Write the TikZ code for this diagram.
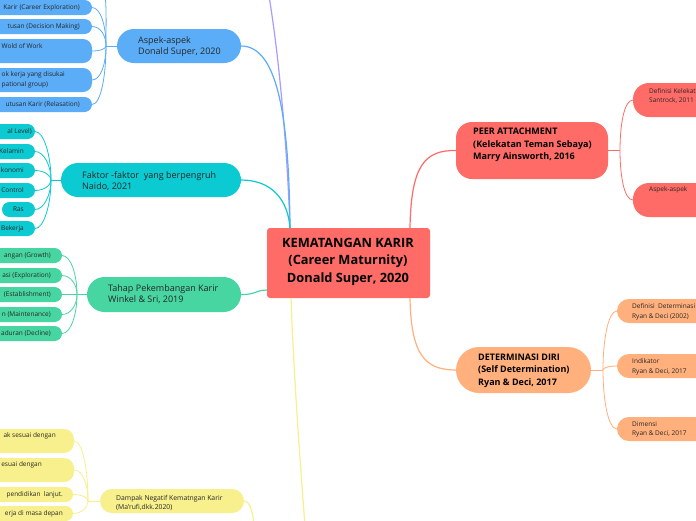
\documentclass[tikz,border=0pt]{standalone}
\usepackage{fontspec}
\setmainfont{Open Sans}
\usetikzlibrary{calc}
\definecolor{cRed}{HTML}{FF6B66}
\definecolor{cBlue}{HTML}{5BADF7}
\definecolor{cTeal}{HTML}{0CCAD2}
\definecolor{cGreen}{HTML}{47D6A1}
\definecolor{cYellow}{HTML}{F8F08C}
\definecolor{cOrange}{HTML}{FFB07C}
\definecolor{cPurple}{HTML}{A99CFF}
\definecolor{txt}{HTML}{262626}
\newcommand\lconn[3]{\draw[#3] (#1) .. controls ($(#1)!0.5!(#1 |- #2.east)$) and ($(#2.east)+(9,0)$) .. (#2.east);}
\newcommand\rconn[3]{\draw[#3] (#1) .. controls ($(#1)!0.5!(#1 |- #2.west)$) and ($(#2.west)+(-9,0)$) .. (#2.west);}
\begin{document}
\begin{tikzpicture}[x=1pt,y=-1pt,
  box/.style={fill=#1, draw=none, inner sep=0pt, outer sep=0pt},
  pill/.style={box=#1, minimum height=15pt, rounded corners=7.5pt},
  lt/.style={font=\fontsize{6.5}{9.5}\selectfont, text=txt, inner sep=0pt, align=left},
  mt/.style={font=\fontsize{9}{11}\selectfont, text=txt, inner sep=0pt, align=left, anchor=west},
  bt/.style={font=\bfseries\fontsize{9}{12.4}\selectfont, text=black, inner sep=0pt, align=left, anchor=west},
  main/.style={line width=1.2pt},
  sub/.style={line width=0.8pt}]
\useasboundingbox (0,0) rectangle (696,520);
\fill[white] (0,0) rectangle (696,520);
\clip (0,0) rectangle (696,520);

% ---------- shapes ----------
\node[box=cRed, minimum width=163pt, minimum height=70pt, rounded corners=3pt] (root) at (348.5,263) {};
\coordinate (rtop) at (290,228);
\coordinate (rbot) at (291,298);
\coordinate (rtr) at (410,228);
\coordinate (rbr) at (410,298);
\coordinate (rleft) at (267,290);

\node[box=cRed, minimum width=152pt, minimum height=57pt, rounded corners=16pt] (peer) at (532,150.5) {};
\node[box=cOrange, minimum width=135pt, minimum height=46pt, rounded corners=23pt] (det) at (523.5,370) {};
\node[box=cRed, minimum width=90pt, minimum height=34pt, rounded corners=16pt] (defk) at (678,100) {};
\node[box=cRed, minimum width=90pt, minimum height=34pt, rounded corners=16pt] (aspr) at (678,200) {};
\node[box=cOrange, minimum width=106pt, minimum height=24pt, rounded corners=12pt] (defd) at (670,311) {};
\node[box=cOrange, minimum width=106pt, minimum height=24pt, rounded corners=12pt] (ind) at (670,366) {};
\node[box=cOrange, minimum width=106pt, minimum height=24pt, rounded corners=12pt] (dim) at (670,429) {};

\node[box=cBlue, minimum width=124pt, minimum height=34pt, rounded corners=17pt] (aspek) at (179,46) {};
\node[box=cTeal, minimum width=180pt, minimum height=34pt, rounded corners=17pt] (faktor) at (151,180) {};
\node[box=cGreen, minimum width=154pt, minimum height=35pt, rounded corners=17.5pt] (tahap) at (164,294.5) {};
\node[box=cYellow, minimum width=144pt, minimum height=24pt, rounded corners=12pt] (dampak) at (172,501) {};

% blue leaves
\node[pill=cBlue, minimum width=140pt] (b1) at (22,7.5) {};
\node[pill=cBlue, minimum width=140pt] (b2) at (22,26.5) {};
\node[box=cBlue, minimum width=140pt, minimum height=24pt, rounded corners=9pt] (b3) at (22,51) {};
\node[box=cBlue, minimum width=140pt, minimum height=24pt, rounded corners=9pt] (b4) at (22,80) {};
\node[pill=cBlue, minimum width=140pt] (b5) at (22,104.5) {};
\coordinate (bup) at (103,-20);
% teal leaves
\node[pill=cTeal, minimum width=80pt] (f1) at (-5,131.5) {};
\node[pill=cTeal, minimum width=80pt] (f2) at (-5,151.5) {};
\node[pill=cTeal, minimum width=80pt] (f3) at (-5,170.5) {};
\node[pill=cTeal, minimum width=80pt] (f4) at (-5,190.5) {};
\node[pill=cTeal, minimum width=33pt] (f5) at (18.5,209.5) {};
\node[pill=cTeal, minimum width=80pt] (f6) at (-5,228.5) {};
% green leaves
\node[pill=cGreen, minimum width=100pt] (g1) at (12,255.5) {};
\node[pill=cGreen, minimum width=100pt] (g2) at (12,275.5) {};
\node[pill=cGreen, minimum width=100pt] (g3) at (12,294.5) {};
\node[pill=cGreen, minimum width=100pt] (g4) at (12,314.5) {};
\node[pill=cGreen, minimum width=100pt] (g5) at (12,333.5) {};
% yellow leaves
\node[box=cYellow, minimum width=120pt, minimum height=24pt, rounded corners=10pt] (y1) at (14,441) {};
\node[box=cYellow, minimum width=120pt, minimum height=24pt, rounded corners=10pt] (y2) at (14,470) {};
\node[pill=cYellow, minimum width=120pt] (y3) at (13,494.5) {};
\node[pill=cYellow, minimum width=120pt] (y4) at (13,513.5) {};
\coordinate (ydown) at (254,526);
\coordinate (yroot) at (305,526);
\coordinate (pup) at (269,-4);

% ---------- main connectors ----------
\draw[main, cPurple] (rtop) .. controls (287,140) and (278,50) .. (pup);
\draw[main, cBlue] (aspek.east) .. controls (276,46) and (289,110) .. (rtop);
\draw[main, cTeal] (faktor.east) .. controls (272,180) and (288,200) .. (rtop);
\draw[main, cGreen] (tahap.east) .. controls (255,295) and (256,290) .. (rleft);
\draw[main, cYellow] (rbot) .. controls (294,380) and (300,460) .. (yroot);
\draw[main, cYellow] (dampak.east) .. controls (250,501) and (253,512) .. (ydown);
\draw[main, cRed] (rtr) .. controls (411,165) and (425,150) .. (peer.west);
\draw[main, cOrange] (rbr) .. controls (411,355) and (425,370) .. (det.west);

% ---------- right sub connectors ----------
\coordinate (jp) at (620,150.5);
\draw[sub, cRed] (peer.east) -- (jp);
\rconn{jp}{defk}{sub, cRed}
\rconn{jp}{aspr}{sub, cRed}
\coordinate (jd) at (603,370);
\draw[sub, cOrange] (det.east) -- (jd);
\rconn{jd}{defd}{sub, cOrange}
\rconn{jd}{ind}{sub, cOrange}
\rconn{jd}{dim}{sub, cOrange}

% ---------- left sub connectors ----------
\coordinate (jb) at (106,46);
\draw[sub, cBlue] (aspek.west) -- (jb);
\draw[sub, cBlue] (jb) .. controls (106,20) and (107,0) .. (bup);
\lconn{jb}{b1}{sub, cBlue}
\lconn{jb}{b2}{sub, cBlue}
\lconn{jb}{b3}{sub, cBlue}
\lconn{jb}{b4}{sub, cBlue}
\lconn{jb}{b5}{sub, cBlue}
\coordinate (jf) at (51,180);
\draw[sub, cTeal] (faktor.west) -- (jf);
\foreach \n in {f1,f2,f3,f4,f5,f6} {\lconn{jf}{\n}{sub, cTeal}}
\coordinate (jg) at (77,294.5);
\draw[sub, cGreen] (tahap.west) -- (jg);
\foreach \n in {g1,g2,g3,g4,g5} {\lconn{jg}{\n}{sub, cGreen}}
\coordinate (jy) at (88,501);
\draw[sub, cYellow] (dampak.west) -- (jy);
\foreach \n in {y1,y2,y3,y4} {\lconn{jy}{\n}{sub, cYellow}}

% ---------- texts ----------
\node[font=\bfseries\fontsize{12.8}{17.5}\selectfont, text=black, align=center, inner sep=0pt] (troot) at (348,261.5)
  {KEMATANGAN KARIR\\(Career Maturnity)\\Donald Super, 2020};
\node[bt] (tpeer) at (473,145) {PEER ATTACHMENT\\(Kelekatan Teman Sebaya)\\Marry Ainsworth, 2016};
\node[bt] (tdet) at (478,370.5) {DETERMINASI DIRI\\(Self Determination)\\Ryan \& Deci, 2017};
\node[lt, anchor=west] (tdefk) at (649,96) {Definisi Kelekatan\\Santrock, 2011};
\node[lt, anchor=west] (taspr) at (649,190) {Aspek-aspek};
\node[lt, anchor=west] (tdefd) at (632,312) {Definisi~ Determinasi\\Ryan \& Deci (2002)};
\node[lt, anchor=west] (tind) at (632,367) {Indikator\\Ryan \& Deci, 2017};
\node[lt, anchor=west] (tdim) at (632,429.5) {Dimensi\\Ryan \& Deci, 2017};

\node[mt] (taspek) at (138,46.5) {Aspek-aspek\\Donald Super, 2020};
\node[mt] (tfaktor) at (82,181) {Faktor -faktor~ yang berpengruh\\Naido, 2021};
\node[mt] (ttahap) at (108,294.5) {Tahap Pekembangan Karir\\Winkel \& Sri, 2019};
\node[lt, anchor=west, font=\fontsize{6.8}{9}\selectfont] (tdampak) at (116,502.5) {Dampak Negatif Kematngan Karir\\(Ma'rufi,dkk.2020)};

\node[lt, anchor=east] (tb1) at (80,7.5) {Karir (Career Exploration)};
\node[lt, anchor=east] (tb2) at (80,26.5) {tusan (Decision Making)};
\node[lt, anchor=west] (tb3) at (1.5,46) {Wold of Work};
\node[lt, anchor=west] (tb4) at (1.5,80) {ok kerja yang disukai\\pational group)};
\node[lt, anchor=east] (tb5) at (80,104.5) {utusan Karir (Relasation)};

\node[lt, anchor=east] (tf1) at (32,131.5) {al Level)};
\node[lt, anchor=east] (tf2) at (24,151.5) {Kelamin};
\node[lt, anchor=east] (tf3) at (24,170.5) {konomi};
\node[lt, anchor=east] (tf4) at (24,190.5) {Control};
\node[lt, anchor=east] (tf5) at (24,209.5) {Ras};
\node[lt, anchor=east] (tf6) at (24,228.5) {Bekerja};

\node[lt, anchor=east] (tg1) at (51,255.5) {angan (Growth)};
\node[lt, anchor=east] (tg2) at (51,275.5) {asi (Exploration)};
\node[lt, anchor=east] (tg3) at (51,294.5) {(Establishment)};
\node[lt, anchor=east] (tg4) at (51,314.5) {n (Maintenance)};
\node[lt, anchor=east] (tg5) at (51,333.5) {aduran (Decline)};

\node[lt, anchor=east] (ty1) at (56,436) {ak sesuai dengan};
\node[lt, anchor=east] (ty2) at (42,465) {esuai dengan};
\node[lt, anchor=east] (ty3) at (63,494.5) {pendidikan~ lanjut.};
\node[lt, anchor=east] (ty4) at (63,514) {erja di masa depan};
\end{tikzpicture}
\end{document}
